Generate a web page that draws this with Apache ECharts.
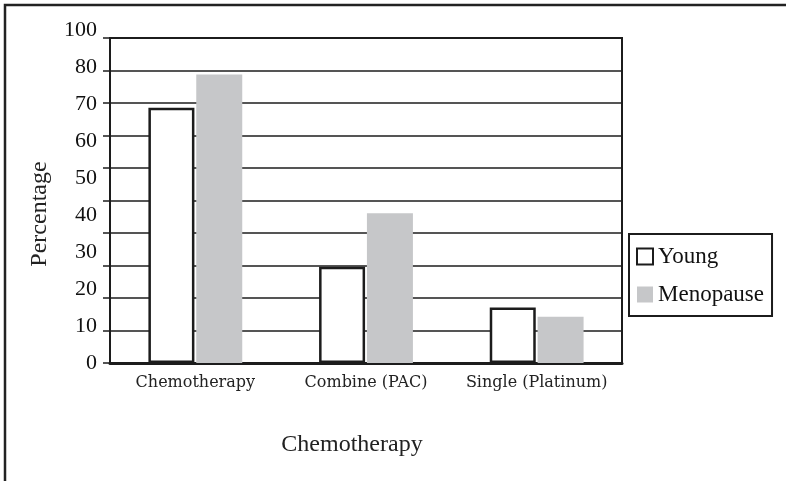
<!DOCTYPE html>
<html>
<head>
<meta charset="utf-8">
<script src="https://cdn.jsdelivr.net/npm/echarts@6/dist/echarts.min.js"></script>
<style>
  html, body { margin: 0; padding: 0; background: #fff; }
  #chart { width: 786px; height: 481px; }
</style>
</head>
<body>
<div id="chart"></div>
<script>
const categories = ['Chemotherapy', 'Combine (PAC)', 'Single (Platinum)']
const young = [69, 26, 15]
const menopause = [78, 40.5, 12.5]
// label axis: evenly spaced ticks, the top one printed as 100
const tickLabels = { 0: '0', 10: '10', 20: '20', 30: '30', 40: '40', 50: '50', 60: '60', 70: '70', 80: '80', 90: '100' }

const serif = 'Liberation Serif'
const ink = '#1c1c1c'

const myChart = echarts.init(document.getElementById('chart'))

const option = {
  animation: false,
  backgroundColor: '#fff',
  graphic: [
    {
      type: 'rect',
      shape: { x: 5, y: 5, width: 820, height: 520 },
      style: { fill: 'none', stroke: '#222', lineWidth: 2.5 },
      silent: true,
    },
  ],
  grid: [
    // box with the gridlines
    { left: 110, right: 164, top: 38, height: 325, show: true, borderColor: ink, borderWidth: 2, backgroundColor: 'transparent' },
    // bars and tick labels
    { left: 110, right: 164, top: 30, height: 333 },
  ],
  legend: {
    orient: 'vertical',
    left: 629,
    top: 234,
    padding: [11, 8, 10, 7],
    itemGap: 15,
    itemWidth: 16,
    itemHeight: 16,
    borderColor: ink,
    borderWidth: 2,
    backgroundColor: '#fff',
    textStyle: { fontFamily: serif, fontSize: 23, color: '#111' },
    data: [
      { name: 'Young', icon: 'rect', itemStyle: { color: '#fff', borderColor: ink, borderWidth: 2 } },
      { name: 'Menopause', icon: 'rect', itemStyle: { color: '#c6c7c9', borderWidth: 0 } },
    ],
  },
  xAxis: [
    {
      gridIndex: 0,
      type: 'category',
      data: categories,
      axisLine: { show: false },
      axisTick: { show: false },
      axisLabel: { show: false },
    },
    {
      gridIndex: 1,
      type: 'category',
      data: categories,
      axisLine: { show: true, lineStyle: { color: ink, width: 3 } },
      axisTick: { show: false },
      axisLabel: { interval: 0, hideOverlap: false, margin: 12, fontFamily: 'DejaVu Serif', fontSize: 16, color: '#222' },
      name: 'Chemotherapy',
      nameLocation: 'middle',
      nameGap: 70,
      nameTextStyle: { fontFamily: serif, fontSize: 24, color: '#222', padding: [0, 28, 0, 0] },
    },
  ],
  yAxis: [
    {
      gridIndex: 0,
      type: 'value',
      min: 0,
      max: 100,
      interval: 10,
      axisLine: { show: true, lineStyle: { color: ink, width: 2 } },
      axisTick: { show: true, inside: false, length: 7, lineStyle: { color: ink, width: 1.5 } },
      axisLabel: { show: false },
      splitLine: { show: true, lineStyle: { color: ink, width: 1.5 } },
      name: 'Percentage',
      nameLocation: 'middle',
      nameRotate: 90,
      nameGap: 58,
      nameTextStyle: { fontFamily: serif, fontSize: 24, color: '#222', padding: [0, 27, 0, 0] },
    },
    {
      gridIndex: 1,
      type: 'value',
      min: 0,
      max: 90,
      interval: 10,
      axisLine: { show: false },
      axisTick: { show: false },
      splitLine: { show: false },
      axisLabel: {
        margin: 13,
        fontFamily: serif,
        fontSize: 22,
        color: '#111',
        formatter: v => tickLabels[v],
      },
    },
  ],
  series: [
    {
      name: 'Young',
      type: 'bar',
      xAxisIndex: 1,
      yAxisIndex: 1,
      barWidth: 46,
      barGap: '4%',
      itemStyle: { color: '#fff', borderColor: ink, borderWidth: 2.5 },
      data: young,
    },
    {
      name: 'Menopause',
      type: 'bar',
      xAxisIndex: 1,
      yAxisIndex: 1,
      barWidth: 46,
      itemStyle: { color: '#c6c7c9' },
      data: menopause,
    },
  ],
}

option && myChart.setOption(option)
</script>
</body>
</html>
